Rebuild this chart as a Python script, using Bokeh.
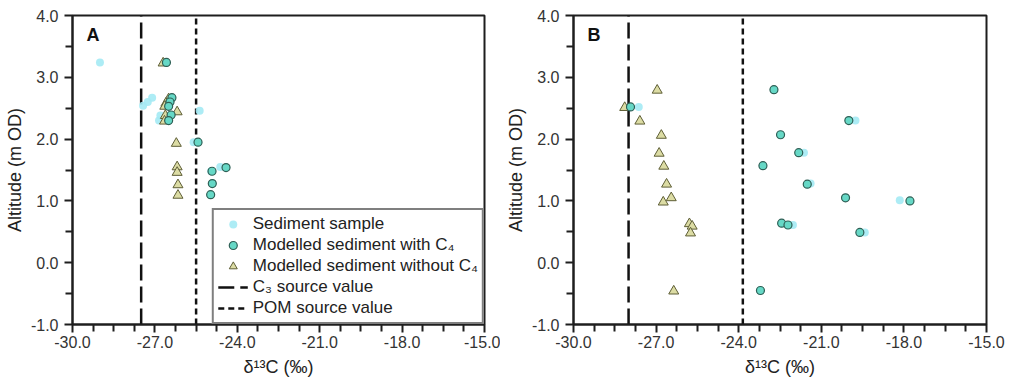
from bokeh.plotting import figure
from bokeh.layouts import row
from bokeh.models import FixedTicker, PrintfTickFormatter, Label, Legend, LegendItem
from bokeh.embed import file_html
from bokeh.resources import INLINE

# ---------------- data ----------------
X_MIN, X_MAX = -30.0, -15.0
Y_MIN, Y_MAX = -1.0, 4.0
x_major = [-30.0, -27.0, -24.0, -21.0, -18.0, -15.0]
x_minor = [-29.25, -28.5, -27.75, -26.25, -25.5, -24.75, -23.25, -22.5, -21.75,
           -20.25, -19.5, -18.75, -17.25, -16.5, -15.75]
y_major = [-1.0, 0.0, 1.0, 2.0, 3.0, 4.0]
y_minor = [-0.5, 0.5, 1.5, 2.5, 3.5]

# Panel A
a_sed_x = [-29.0, -27.43, -27.26, -27.10, -26.80, -26.85, -25.37, -25.59, -24.62, -24.95, -24.91, -24.97]
a_sed_y = [3.24, 2.54, 2.60, 2.67, 2.38, 2.30, 2.46, 1.95, 1.55, 1.48, 1.28, 1.10]
a_c4_x = [-26.58, -26.38, -26.45, -26.50, -26.41, -26.50, -25.43, -24.92, -24.41, -24.91, -24.97]
a_c4_y = [3.24, 2.67, 2.60, 2.53, 2.39, 2.30, 1.95, 1.48, 1.54, 1.28, 1.10]
a_noc4_x = [-26.70, -26.50, -26.60, -26.64, -26.19, -26.62, -26.65, -26.22, -26.19, -26.19, -26.16, -26.16]
a_noc4_y = [3.23, 2.65, 2.58, 2.53, 2.44, 2.38, 2.29, 1.93, 1.55, 1.46, 1.26, 1.09]
a_c3_source = -27.5
a_pom_source = -25.5

# Panel B
b_sed_x = [-27.63, -22.72, -19.76, -22.48, -21.63, -23.12, -21.39, -20.12, -18.15, -22.44, -22.03, -19.42, -23.21]
b_sed_y = [2.52, 2.80, 2.30, 2.07, 1.78, 1.57, 1.28, 1.05, 1.01, 0.64, 0.61, 0.49, -0.45]
b_c4_x = [-27.93, -22.72, -20.00, -22.48, -21.82, -23.12, -21.51, -20.12, -17.78, -22.44, -22.21, -19.60, -23.21]
b_c4_y = [2.52, 2.80, 2.30, 2.07, 1.78, 1.57, 1.27, 1.05, 1.00, 0.64, 0.61, 0.49, -0.45]
b_noc4_x = [-28.14, -26.96, -27.59, -26.81, -26.89, -26.72, -26.62, -26.45, -26.74, -25.79, -25.69, -25.75, -26.36]
b_noc4_y = [2.51, 2.79, 2.29, 2.06, 1.77, 1.56, 1.27, 1.05, 0.98, 0.63, 0.59, 0.48, -0.46]
b_c3_source = -28.0
b_pom_source = -23.85

# ---------------- styles ----------------
SED_COLOR = "#a4eaf4"
C4_FILL = "#66d8c6"
C4_LINE = "#2f5f55"
TRI_FILL = "#dcdca4"
TRI_LINE = "#5e5e36"
FRAME = "#1e1e1e"
FONT = "'Liberation Sans', Arial, sans-serif"


def make_panel(letter, sed_x, sed_y, c4_x, c4_y, nx, ny, c3, pom, width, left, right, with_legend):
    p = figure(width=width, height=383, x_range=(X_MIN, X_MAX), y_range=(Y_MIN, Y_MAX),
               output_backend="svg", toolbar_location=None,
               min_border_left=left, min_border_right=right, min_border_top=15, min_border_bottom=59)
    p.xgrid.visible = False
    p.ygrid.visible = False
    p.outline_line_color = FRAME
    p.outline_line_width = 2
    p.background_fill_color = "white"
    p.border_fill_color = "white"

    p.xaxis.ticker = FixedTicker(ticks=x_major, minor_ticks=x_minor)
    p.yaxis.ticker = FixedTicker(ticks=y_major, minor_ticks=y_minor)
    p.xaxis.formatter = PrintfTickFormatter(format="%.1f")
    p.yaxis.formatter = PrintfTickFormatter(format="%.1f")
    for ax in (p.xaxis, p.yaxis):
        ax.axis_line_color = FRAME
        ax.axis_line_width = 2
        ax.major_tick_line_color = FRAME
        ax.minor_tick_line_color = FRAME
        ax.major_tick_line_width = 2
        ax.minor_tick_line_width = 2
        ax.major_tick_in = 0
        ax.minor_tick_in = 0
        ax.major_tick_out = 8
        ax.minor_tick_out = 7
        ax.major_label_text_color = "#333333"
        ax.major_label_text_font = FONT
        ax.major_label_text_font_size = "16px"
        ax.axis_label_text_color = "#222222"
        ax.axis_label_text_font_style = "normal"
        ax.axis_label_text_font = FONT
        ax.axis_label_text_font_size = "18px"
    p.xaxis.major_label_standoff = 3
    p.xaxis.axis_label = "δ¹³C (‰)"
    p.xaxis.axis_label_standoff = 6
    p.yaxis.major_label_standoff = 6
    p.yaxis.axis_label = "Altitude (m OD)"
    p.yaxis.axis_label_standoff = 3

    r_c3 = p.line(x=[c3, c3], y=[Y_MIN, Y_MAX], line_color="#111111", line_width=2.5, line_dash="16 6")
    r_pom = p.line(x=[pom, pom], y=[Y_MIN, Y_MAX], line_color="#111111", line_width=2.5, line_dash="6 4")

    r_sed = p.scatter(sed_x, sed_y, marker="circle", size=8, fill_color=SED_COLOR, line_color=None, fill_alpha=0.9)
    r_tri = p.scatter(nx, ny, marker="triangle", size=10, fill_color=TRI_FILL, line_color=TRI_LINE, line_width=1)
    r_c4 = p.scatter(c4_x, c4_y, marker="circle", size=8, fill_color=C4_FILL, line_color=C4_LINE, line_width=1.2)

    p.add_layout(Label(x=14, y=280, x_units="screen", y_units="screen", text=letter,
                       text_font=FONT, text_font_size="18px", text_font_style="bold", text_color="#111111"))

    if with_legend:
        legend = Legend(items=[
            LegendItem(label="Sediment sample", renderers=[r_sed]),
            LegendItem(label="Modelled sediment with C₄", renderers=[r_c4]),
            LegendItem(label="Modelled sediment without C₄", renderers=[r_tri]),
            LegendItem(label="C₃ source value", renderers=[r_c3]),
            LegendItem(label="POM source value", renderers=[r_pom]),
        ], location="bottom_right")
        legend.margin = 0
        legend.padding = 4
        legend.spacing = 1
        legend.label_height = 20
        legend.glyph_height = 20
        legend.glyph_width = 30
        legend.label_standoff = 5
        legend.label_text_font = FONT
        legend.label_text_font_size = "17px"
        legend.label_text_color = "#222222"
        legend.border_line_color = "#000000"
        legend.border_line_width = 2.5
        legend.background_fill_alpha = 1
        p.add_layout(legend)
    return p


pa = make_panel("A", a_sed_x, a_sed_y, a_c4_x, a_c4_y, a_noc4_x, a_noc4_y, a_c3_source, a_pom_source,
                500, 72, 16, True)
pb = make_panel("B", b_sed_x, b_sed_y, b_c4_x, b_c4_y, b_noc4_x, b_noc4_y, b_c3_source, b_pom_source,
                516, 73, 30, False)

layout = row(pa, pb)
open("out.html", "w").write(file_html(layout, INLINE))
